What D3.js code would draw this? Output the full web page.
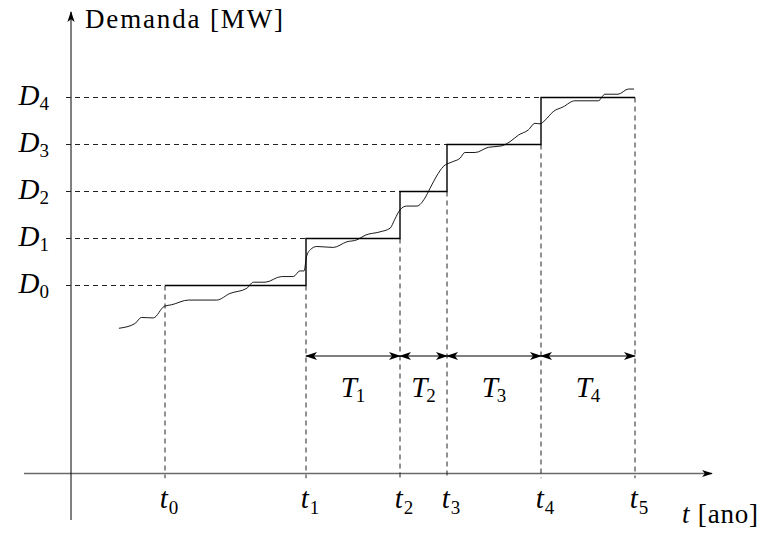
<!DOCTYPE html>
<html>
<head>
<meta charset="utf-8">
<script src="https://cdn.jsdelivr.net/npm/d3@7"></script>
<style>
  html, body { margin: 0; padding: 0; background: #fff; }
  svg { display: block; }
  text { font-family: "Liberation Serif", "DejaVu Serif", serif; fill: #000; }
</style>
</head>
<body>
<svg id="chart" width="762" height="533"></svg>
<script>
// ---- data ----
const tValues = [2, 5, 7, 8, 10, 12];            // t0..t5 [ano]
const tSubs   = ["0", "1", "2", "3", "4", "5"];
const dValues = [4, 5, 6, 7, 8];                  // D0..D4 [MW]
const dSubs   = ["0", "1", "2", "3", "4"];
const periodLabels = ["1", "2", "3", "4"];        // T1..T4
const periodLevel = 2.5;
const curveX = [1.02, 1.36, 1.50, 1.75, 1.99, 2.14, 2.50, 3.10, 3.38, 3.74, 3.88, 4.13, 4.48, 4.73, 4.87, 4.96,
                5.01, 5.09, 5.23, 5.58, 5.87, 6.08, 6.26, 6.57, 6.79, 6.89, 7.00, 7.14, 7.36, 7.53, 7.64, 7.78,
                7.92, 8.11, 8.28, 8.38, 8.60, 8.88, 9.16, 9.34, 9.52, 9.73, 9.87, 9.98, 10.09, 10.26, 10.47,
                10.72, 11.22, 11.36, 11.64, 11.86, 11.98];
const curveY = [3.09, 3.19, 3.32, 3.31, 3.56, 3.59, 3.69, 3.69, 3.83, 3.94, 4.07, 4.07, 4.19, 4.19, 4.31, 4.31,
                4.61, 4.76, 4.83, 4.81, 4.93, 4.97, 5.07, 5.14, 5.22, 5.41, 5.61, 5.69, 5.69, 5.86, 6.07, 6.33,
                6.53, 6.63, 6.71, 6.83, 6.83, 6.94, 6.97, 7.06, 7.20, 7.31, 7.45, 7.44, 7.52, 7.70, 7.80,
                7.93, 7.93, 8.07, 8.07, 8.18, 8.18];

// ---- scales ----
const x = d3.scaleLinear().domain([0, 12]).range([71, 635]);
const y = d3.scaleLinear().domain([0, 8]).range([473.5, 97.5]);

const svg = d3.select("#chart");
const defs = svg.append("defs");
function marker(id, color, w, h) {
  defs.append("marker")
    .attr("id", id).attr("markerUnits", "userSpaceOnUse")
    .attr("viewBox", "0 -5 12 10").attr("refX", 11).attr("refY", 0)
    .attr("markerWidth", w).attr("markerHeight", h)
    .attr("orient", "auto-start-reverse")
    .append("path").attr("d", "M0,-4 L12,0 L0,4 L3,0 Z").attr("fill", color);
}
marker("arr", "#000", 12, 10);
marker("axArr", "#000", 11, 9);

// ---- axes ----
svg.append("line")
  .attr("x1", x(-1)).attr("x2", 712).attr("y1", y(0)).attr("y2", y(0))
  .attr("stroke", "#6a6a6a").attr("stroke-width", 1.6).attr("marker-end", "url(#axArr)");
svg.append("line")
  .attr("x1", x(0)).attr("x2", x(0)).attr("y1", y(-0.99)).attr("y2", 12)
  .attr("stroke", "#000").attr("stroke-width", 1).attr("marker-end", "url(#axArr)");

// ---- dashed guides ----
const dash = svg.append("g").attr("stroke", "#222").attr("stroke-width", 1).attr("stroke-dasharray", "5,4").attr("fill", "none");
dValues.forEach((d, i) => {
  dash.append("line").attr("x1", x(0) - 5).attr("x2", x(tValues[i])).attr("y1", y(d)).attr("y2", y(d));
});
const vertTop = [dValues[0], dValues[0], dValues[1], dValues[2], dValues[3], dValues[4]];
tValues.forEach((t, i) => {
  dash.append("line").attr("x1", x(t)).attr("x2", x(t)).attr("y1", y(vertTop[i])).attr("y2", y(-0.1));
});

// ---- step function ----
const stepPts = tValues.map((t, i) => [t, dValues[Math.min(i, dValues.length - 1)]]);
svg.append("path")
  .attr("d", d3.line().x(d => x(d[0])).y(d => y(d[1])).curve(d3.curveStepAfter)(stepPts))
  .attr("fill", "none").attr("stroke", "#000").attr("stroke-width", 1.4);

// ---- demand curve ----
const curvePts = curveX.map((v, i) => [v, curveY[i]]);
svg.append("path")
  .attr("d", d3.line().x(d => x(d[0])).y(d => y(d[1])).curve(d3.curveMonotoneX)(curvePts))
  .attr("fill", "none").attr("stroke", "#000").attr("stroke-width", 0.9);

// ---- period arrows ----
for (let i = 1; i <= periodLabels.length; i++) {
  svg.append("line")
    .attr("x1", x(tValues[i])).attr("x2", x(tValues[i + 1]))
    .attr("y1", y(periodLevel)).attr("y2", y(periodLevel))
    .attr("stroke", "#000").attr("stroke-width", 1.1)
    .attr("marker-start", "url(#arr)").attr("marker-end", "url(#arr)");
  const t = svg.append("text")
    .attr("x", (x(tValues[i]) + x(tValues[i + 1])) / 2).attr("y", 397)
    .attr("text-anchor", "middle").attr("font-size", 29);
  t.append("tspan").attr("font-style", "italic").text("T");
  t.append("tspan").attr("font-size", 19).attr("dy", 5).attr("dx", -1).text(periodLabels[i - 1]);
}

// ---- D labels ----
dValues.forEach((d, i) => {
  const t = svg.append("text").attr("x", 49).attr("y", y(d) + 7).attr("text-anchor", "end").attr("font-size", 29);
  t.append("tspan").attr("font-style", "italic").text("D");
  t.append("tspan").attr("font-size", 19).attr("dy", 5).text(dSubs[i]);
});

// ---- t labels ----
tValues.forEach((tv, i) => {
  const t = svg.append("text").attr("x", x(tv) + 4).attr("y", 508).attr("text-anchor", "middle").attr("font-size", 29);
  t.append("tspan").attr("font-style", "italic").text("t");
  t.append("tspan").attr("font-size", 19).attr("dy", 6).attr("dx", 1).text(tSubs[i]);
});

// ---- axis titles ----
svg.append("text").attr("x", 85).attr("y", 28).attr("font-size", 27)
  .attr("textLength", 198).attr("lengthAdjust", "spacing").text("Demanda [MW]");
const xt = svg.append("text").attr("x", 682).attr("y", 523).attr("font-size", 27)
  .attr("textLength", 76).attr("lengthAdjust", "spacing");
xt.append("tspan").attr("font-style", "italic").text("t");
xt.append("tspan").text(" [ano]");
</script>
</body>
</html>
